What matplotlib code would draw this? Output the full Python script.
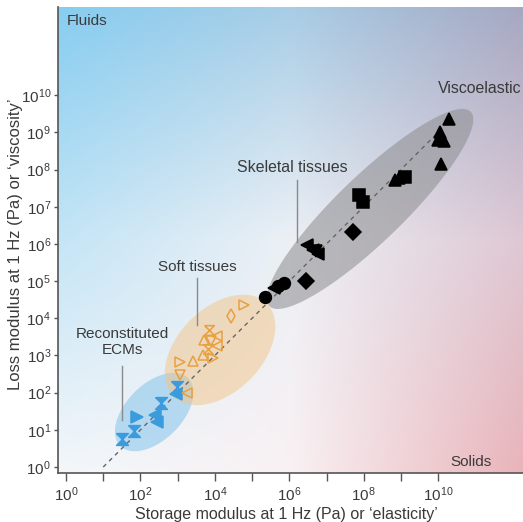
import numpy as np
import matplotlib
matplotlib.use('Agg')
import matplotlib.pyplot as plt

plt.rcParams['font.family'] = ['Liberation Sans', 'DejaVu Sans']
plt.rcParams['mathtext.fontset'] = 'custom'
plt.rcParams['mathtext.rm'] = 'Liberation Sans'
plt.rcParams['mathtext.it'] = 'Liberation Sans:italic'

# values are log10 of the modulus in Pa (storage G', loss G'')
ecm_x = [1.50, 1.84, 2.55, 2.99, 1.92, 2.39, 2.45, 2.96]
ecm_y = [0.75, 0.98, 1.73, 2.14, 1.35, 1.40, 1.22, 1.96]
ecm_m = ['hg', 'hg', 'hg', 'hg', '>', '<', '<', '<']

soft_x = [4.78, 4.44, 3.85, 4.07, 3.72, 3.90, 3.82, 3.69, 3.95, 4.05, 3.06, 3.42, 3.05, 3.24]
soft_y = [4.35, 4.06, 3.68, 3.52, 3.42, 3.40, 3.17, 3.02, 2.92, 3.25, 2.83, 2.85, 2.47, 1.98]
soft_m = ['>', 'd', 'hg', '<', '^', 'v', 'hg', '^', '>', '<', '>', '^', 'v', '<']

skel_x = [5.35, 5.70, 5.87, 5.60, 6.45, 7.72, 6.47, 6.65, 6.78, 6.72,
          7.86, 7.98, 9.12, 8.84, 8.95, 10.30, 10.05, 10.00, 10.15, 10.07]
skel_y = [4.56, 4.87, 4.95, 4.82, 5.01, 6.31, 5.98, 5.83, 5.74, 5.80,
          7.31, 7.13, 7.80, 7.72, 7.77, 9.37, 9.01, 8.80, 8.77, 8.15]
skel_m = ['o', 'o', 'o', '<', 'D', 'D', '<', '<', '<', 'v',
          's', 's', 's', '^', '^', '^', '^', '^', '^', '^']

# dashed trend line (G'' = 0.1 G')
trend_x = [1.0, 10.3]
trend_y = [0.0, 9.3]

# shaded regions: centre x, centre y, semi-major, semi-minor, angle (deg), in decades
regions = {
    'ecm': (2.37, 1.48, 1.29, 0.75, 45),
    'soft': (4.14, 3.15, 1.77, 1.13, 45),
    'skel': (8.17, 6.94, 3.76, 0.89, 44),
}

hourglass = [(-1, 1), (1, 1), (0, 0), (1, -1), (-1, -1), (0, 0), (-1, 1)]

fig = plt.figure(figsize=(5.23, 5.22), dpi=100)
pos = [58 / 523, 49 / 522, 465 / 523, 466 / 522]

# background gradient (fluids -> solids), control colours top row first
ctrl = np.array([
    [[135, 205, 240], [168, 205, 230], [166, 168, 194]],
    [[196, 229, 246], [236, 240, 245], [222, 200, 212]],
    [[243, 247, 250], [249, 241, 243], [233, 180, 186]],
]) / 255.0
n = 200
s = np.linspace(0, 1, n)
knots = [0, 0.5, 1]
rows = np.array([[np.interp(s, knots, ctrl[r, :, c]) for c in range(3)] for r in range(3)])
img = np.zeros((n, n, 3))
for c in range(3):
    for j in range(n):
        img[:, j, c] = np.interp(s, knots, rows[:, c, j])

bg = fig.add_axes(pos, zorder=0)
bg.imshow(img, extent=(0, 1, 0, 1), aspect='auto', interpolation='bilinear')
bg.axis('off')

ax = fig.add_axes(pos, zorder=1)
ax.set_facecolor('none')
ax.set_xscale('log')
ax.set_yscale('log')


def ellipse(cx, cy, a, b, ang):
    t = np.linspace(0, 2 * np.pi, 200)
    th = np.deg2rad(ang)
    ex = cx + a * np.cos(t) * np.cos(th) - b * np.sin(t) * np.sin(th)
    ey = cy + a * np.cos(t) * np.sin(th) + b * np.sin(t) * np.cos(th)
    return 10.0 ** ex, 10.0 ** ey


ax.fill(*ellipse(*regions['ecm']), color='#8ec8ec', alpha=0.6, lw=0, zorder=1)
ax.fill(*ellipse(*regions['soft']), color='#f2c486', alpha=0.5, lw=0, zorder=1)
ax.fill(*ellipse(*regions['skel']), color='#8c8c8e', alpha=0.55, lw=0, zorder=1)

ax.plot(10.0 ** np.array(trend_x), 10.0 ** np.array(trend_y), color='#666666',
        lw=1, dashes=(3, 3), zorder=2)


def draw(xs, ys, ms, face, edge, size):
    xs = np.array(xs)
    ys = np.array(ys)
    ms = np.array(ms)
    for m in dict.fromkeys(ms):
        sel = ms == m
        mk = hourglass if m == 'hg' else m
        ax.plot(10.0 ** xs[sel], 10.0 ** ys[sel], ls='none', marker=mk,
                ms=size, mfc=face, mec=edge, mew=1.1, zorder=3)


draw(ecm_x, ecm_y, ecm_m, '#3c9bdc', '#3c9bdc', 8.5)
draw(soft_x, soft_y, soft_m, 'none', '#e8a040', 7)
draw(skel_x, skel_y, skel_m, 'black', 'black', 8.5)

# labels with leader lines
tc = '#3a3a3a'
lc = '#8a8a8a'
ax.text(10 ** 1.505, 10 ** 3.37, 'Reconstituted\nECMs', ha='center', va='center',
        fontsize=11, color=tc, linespacing=1.2)
ax.plot([10 ** 1.5, 10 ** 1.5], [10 ** 2.72, 10 ** 1.26], color=lc, lw=1, zorder=2)
ax.text(10 ** 3.52, 10 ** 5.38, 'Soft tissues', ha='center', va='center',
        fontsize=11, color=tc)
ax.plot([10 ** 3.52, 10 ** 3.52], [10 ** 5.08, 10 ** 3.82], color=lc, lw=1, zorder=2)
ax.text(10 ** 6.08, 10 ** 8.06, 'Skeletal tissues', ha='center', va='center',
        fontsize=11.4, color=tc)
ax.plot([10 ** 6.21, 10 ** 6.21], [10 ** 7.72, 10 ** 6.05], color=lc, lw=1, zorder=2)
ax.text(10 ** 10.0, 10 ** 10.19, 'Viscoelastic', ha='left', va='center',
        fontsize=11.4, color=tc)
ax.text(0.019, 0.970, 'Fluids', transform=ax.transAxes, ha='left', va='center',
        fontsize=11, color=tc)
ax.text(0.933, 0.024, 'Solids', transform=ax.transAxes, ha='right', va='center',
        fontsize=11, color=tc)

ax.set_xlim(10 ** -0.215, 10 ** 12.28)
ax.set_ylim(10 ** -0.16, 10 ** 12.37)

ax.set_xticks([10.0 ** k for k in range(0, 11, 2)])
ax.set_xticklabels(['$10^{%d}$' % k for k in range(0, 11, 2)])
ax.set_xticks([10.0 ** k for k in range(1, 11, 2)], minor=True)
ax.xaxis.set_minor_formatter(matplotlib.ticker.NullFormatter())
ax.set_yticks([10.0 ** k for k in range(0, 11)])
ax.set_yticklabels(['$10^{%d}$' % k for k in range(0, 11)])
ax.yaxis.set_minor_locator(matplotlib.ticker.NullLocator())

for side in ['top', 'right']:
    ax.spines[side].set_visible(False)
for side in ['left', 'bottom']:
    ax.spines[side].set_color('#555555')
    ax.spines[side].set_linewidth(1.2)

ax.tick_params(axis='x', which='both', length=6, width=1, color='#555555',
               labelsize=11, labelcolor=tc, pad=3)
ax.tick_params(axis='y', which='major', length=3, width=1, color='#555555',
               labelsize=11, labelcolor=tc, pad=2)

fig.text(16 / 523, 1 - 244 / 522, 'Loss modulus at 1 Hz (Pa) or \u2018viscosity\u2019',
         rotation=90, ha='center', va='center', fontsize=12, color=tc)
fig.text(286 / 523, 1 - 514 / 522, 'Storage modulus at 1 Hz (Pa) or \u2018elasticity\u2019',
         ha='center', va='center', fontsize=11.5, color=tc)

fig.savefig('out.png', dpi=100)
